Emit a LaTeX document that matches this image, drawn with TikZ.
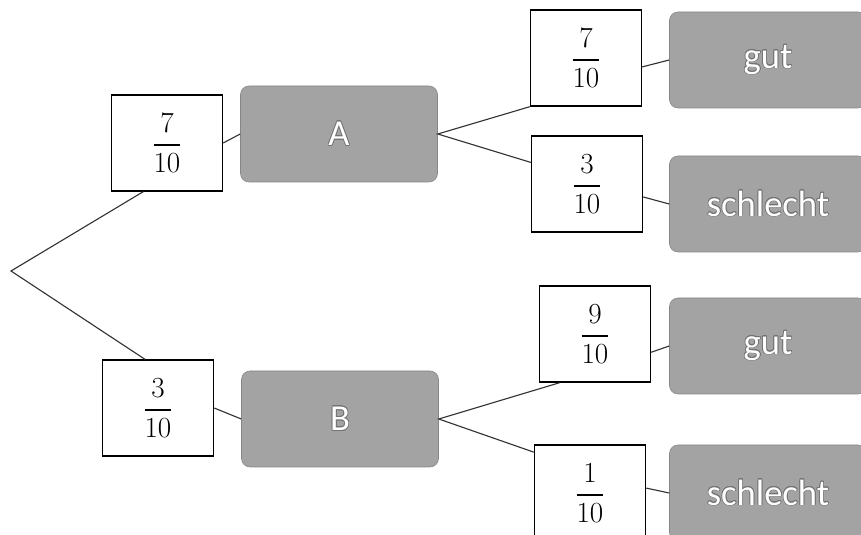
\documentclass[tikz,border=0pt]{standalone}
\usepackage{amsmath}
\usepackage{fontspec}
\usepackage{contour}
\newfontfamily\boxfont{Carlito}
\usetikzlibrary{arrows}
\contourlength{0.5pt}
\newcommand{\boxlabel}[1]{\contour{black!55}{\textcolor{white}{#1}}}

\begin{document}
\begin{tikzpicture}
    \tikzset{prob box/.style={draw,line width=1pt,rectangle,minimum width=2.775cm,
    minimum height=2.4cm,font=\huge}}
    \tikzset{event box/.style={draw=gray!95,fill=gray!72,rounded corners=6pt,
    minimum width=4.925cm,minimum height=2.4cm,font=\fontsize{26}{30}\boxfont}}
    \tikzset{branch/.style={line width=0.8pt,draw=black!80}}

    \useasboundingbox (0,0) rectangle (21.525,-13.375);

    \coordinate (R) at (0.275,-6.775);
    \node [prob box] (PA) at (4.175,-3.575) {$\dfrac{7}{10}$};
    \node [prob box] (PB) at (3.95,-10.2) {$\dfrac{3}{10}$};
    \node [event box] (A) at (8.475,-3.35) {\boxlabel{A}};
    \node [event box] (B) at (8.5,-10.475) {\boxlabel{B}};

    \node [prob box] (PAG) at (14.65,-1.45) {$\dfrac{7}{10}$};
    \node [prob box] (PAS) at (14.675,-4.6) {$\dfrac{3}{10}$};
    \node [prob box] (PBG) at (14.875,-8.35) {$\dfrac{9}{10}$};
    \node [prob box] (PBS) at (14.75,-12.325) {$\dfrac{1}{10}$};

    \node [event box] (AG) at (19.2,-1.5) {\boxlabel{gut}};
    \node [event box] (AS) at (19.2,-5.1) {\boxlabel{schlecht}};
    \node [event box] (BG) at (19.2,-8.65) {\boxlabel{gut}};
    \node [event box] (BS) at (19.2,-12.325) {\boxlabel{schlecht}};

    \draw [branch] (PA.244) -- (R) -- (PB.105);
    \draw [branch] (PA.east) -- (A.west);
    \draw [branch] (PB.east) -- (B.west);
    \draw [branch] (PAG.south west) -- (A.east) -- (PAS.159);
    \draw [branch] (PBG.234) -- (B.east) -- (PBS.144);
    \draw [branch] (PAG.-9) -- (AG.west);
    \draw [branch] (PAS.-13) -- (AS.west);
    \draw [branch] (PBG.-18) -- (BG.west);
    \draw [branch] (PBS.5) -- (BS.west);
\end{tikzpicture}
\end{document}
